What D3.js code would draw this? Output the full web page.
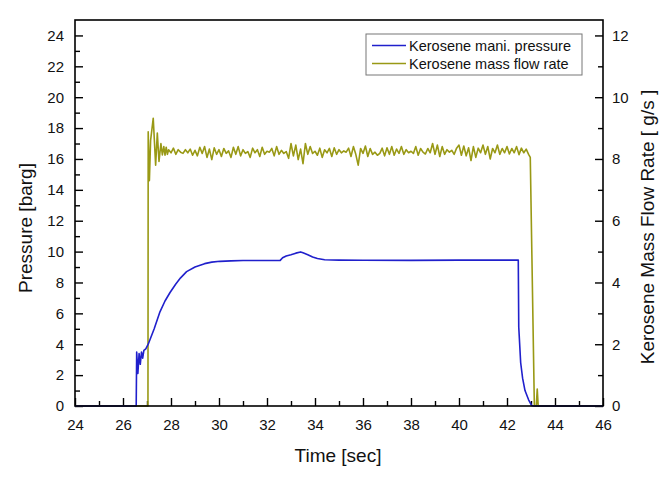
<!DOCTYPE html>
<html>
<head>
<meta charset="utf-8">
<script src="https://cdn.jsdelivr.net/npm/d3@7"></script>
<style>
  body { margin: 0; background: #fff; }
  svg { font-family: "Liberation Sans", Arial, sans-serif; }
</style>
</head>
<body>
<svg id="chart" width="669" height="477"></svg>
<script>
// ---- data ----
const xTicks = [24, 26, 28, 30, 32, 34, 36, 38, 40, 42, 44, 46];
const yLeftTicks = [0, 2, 4, 6, 8, 10, 12, 14, 16, 18, 20, 22, 24];
const yRightTicks = [0, 2, 4, 6, 8, 10, 12];
const seriesNames = ["Kerosene mani. pressure", "Kerosene mass flow rate"];

// Kerosene manifold pressure [barg]
const pressureTime = [24, 26.55, 26.57, 26.62, 26.67, 26.72, 26.77, 26.82, 26.87, 26.95, 27.05, 27.3, 27.54, 27.75, 27.96, 28.2, 28.4, 28.65, 29.0, 29.4, 29.7, 30.04, 30.5, 31.0, 32.0, 32.55, 32.65, 32.8, 33.0, 33.2, 33.4, 33.5, 33.7, 33.9, 34.1, 34.4, 35, 36, 38, 40, 42.47, 42.49, 42.57, 42.65, 42.75, 42.9, 43.03, 43.1, 46];
const pressureValue = [0, 0, 3.5, 2.1, 3.4, 2.7, 3.5, 3.1, 3.6, 3.7, 4.0, 5.0, 6.1, 6.8, 7.35, 7.9, 8.3, 8.7, 9.0, 9.22, 9.32, 9.37, 9.4, 9.42, 9.42, 9.43, 9.6, 9.72, 9.8, 9.9, 9.98, 9.92, 9.8, 9.65, 9.55, 9.47, 9.45, 9.44, 9.43, 9.45, 9.45, 5.1, 2.8, 1.8, 1.0, 0.4, 0.03, 0, 0];

// Kerosene mass flow rate [g/s]
const flowTime = [24, 27.04, 27.05, 27.1, 27.15, 27.26, 27.36, 27.43, 27.5, 27.58, 27.64, 27.7, 27.75, 27.8, 27.85, 27.9,
  28.0, 28.1, 28.2, 28.3, 28.4, 28.5, 28.6, 28.7, 28.8, 28.9,
  29.0, 29.1, 29.2, 29.3, 29.4, 29.5, 29.6, 29.7, 29.8, 29.9,
  30.0, 30.1, 30.2, 30.3, 30.4, 30.5, 30.6, 30.7, 30.8, 30.9,
  31.0, 31.1, 31.2, 31.3, 31.4, 31.5, 31.6, 31.7, 31.8, 31.9,
  32.0, 32.1, 32.2, 32.3, 32.4, 32.5, 32.6, 32.7, 32.8, 32.9,
  33.0, 33.1, 33.2, 33.3, 33.4, 33.5, 33.6, 33.7, 33.8, 33.9,
  34.0, 34.1, 34.2, 34.3, 34.4, 34.5, 34.6, 34.7, 34.8, 34.9,
  35.0, 35.1, 35.2, 35.3, 35.4, 35.5, 35.6, 35.7, 35.8, 35.9,
  36.0, 36.1, 36.2, 36.3, 36.4, 36.5, 36.6, 36.7, 36.8, 36.9,
  37.0, 37.1, 37.2, 37.3, 37.4, 37.5, 37.6, 37.7, 37.8, 37.9,
  38.0, 38.1, 38.2, 38.3, 38.4, 38.5, 38.6, 38.7, 38.8, 38.9,
  39.0, 39.1, 39.2, 39.3, 39.4, 39.5, 39.6, 39.7, 39.8, 39.9,
  40.0, 40.1, 40.2, 40.3, 40.4, 40.5, 40.6, 40.7, 40.8, 40.9,
  41.0, 41.1, 41.2, 41.3, 41.4, 41.5, 41.6, 41.7, 41.8, 41.9,
  42.0, 42.1, 42.2, 42.3, 42.4, 42.5, 42.6, 42.7, 42.8, 42.9,
  42.97, 43.14, 43.22, 43.26, 43.3, 46];
const flowValue = [0, 0, 8.88, 7.3, 8.6, 9.32, 7.8, 8.84, 7.92, 8.5, 8.13, 8.4, 8.12, 8.38, 8.15, 8.3,
  8.2, 8.35, 8.15, 8.3, 8.22, 8.18, 8.3, 8.2, 8.32, 8.12,
  8.28, 8.1, 8.38, 8.18, 8.4, 8.05, 8.32, 7.98, 8.36, 8.15,
  8.3, 8.08, 8.34, 8.18, 8.26, 8.05, 8.38, 8.15, 8.4, 8.1,
  8.3, 8.18, 8.24, 8.05, 8.35, 8.2, 8.3, 8.08, 8.38, 8.15,
  8.25, 8.22, 8.34, 8.1, 8.4, 8.15, 8.28, 8.18, 8.24, 8.02,
  8.5, 8.1, 8.45, 7.98, 8.32, 7.85, 8.5, 8.15, 8.4, 8.18,
  8.25, 8.12, 8.35, 8.05, 8.3, 8.2, 8.34, 8.08, 8.36, 8.15,
  8.3, 8.2, 8.26, 8.22, 8.35, 8.08, 8.4, 8.15, 7.8, 8.34,
  8.18, 8.42, 8.08, 8.34, 8.15, 8.22, 8.12, 8.18, 8.35, 8.1,
  8.36, 8.15, 8.4, 8.12, 8.32, 8.18, 8.4, 8.15, 8.3, 8.2,
  8.25, 8.18, 8.4, 8.12, 8.34, 8.22, 8.16, 8.34, 8.2, 8.5,
  8.15, 8.45, 8.08, 8.4, 8.15, 8.3, 8.22, 8.28, 8.15, 8.35,
  8.45, 8.12, 8.42, 8.1, 8.36, 7.95, 8.4, 8.05, 8.35, 8.2,
  8.45, 8.15, 8.4, 8.0, 8.34, 8.2, 8.45, 8.15, 8.34, 8.2,
  8.4, 8.16, 8.34, 8.2, 8.4, 8.14, 8.35, 8.2, 8.32, 8.15,
  8.05, 0, 0, 0.55, 0, 0];

// ---- layout ----
const svg = d3.select("#chart");
const mLeft = 75, mRight = 603, mTop = 20, mBottom = 406;
const blue = "#2020cc", olive = "#999915";

const x = d3.scaleLinear().domain([24, 46]).range([mLeft, mRight]);
const yL = d3.scaleLinear().domain([0, 25]).range([mBottom, mTop]);
const yR = d3.scaleLinear().domain([0, 12.5]).range([mBottom, mTop]);

function styleAxis(g) {
  g.select(".domain").remove();
  g.selectAll("line").attr("stroke", "#000").attr("stroke-width", 1.4);
  g.selectAll("text").attr("fill", "#111").style("font-size", "15px");
}

// x axis (ticks inward)
const xMinor = d3.range(25, 46, 2);
svg.append("g").attr("transform", `translate(0,${mBottom})`)
  .call(d3.axisBottom(x).tickValues(xMinor).tickSize(-5).tickFormat(""))
  .call(styleAxis);
svg.append("g").attr("transform", `translate(0,${mBottom})`)
  .call(d3.axisBottom(x).tickValues(xTicks).tickSize(-8).tickPadding(13).tickFormat(d3.format("d")))
  .call(styleAxis);

// left axis
svg.append("g").attr("transform", `translate(${mLeft},0)`)
  .call(d3.axisLeft(yL).tickValues(d3.range(1, 25, 2)).tickSize(-5).tickFormat(""))
  .call(styleAxis);
svg.append("g").attr("transform", `translate(${mLeft},0)`)
  .call(d3.axisLeft(yL).tickValues(yLeftTicks).tickSize(-8).tickPadding(11).tickFormat(d3.format("d")))
  .call(styleAxis);

// right axis
svg.append("g").attr("transform", `translate(${mRight},0)`)
  .call(d3.axisRight(yR).tickValues(d3.range(1, 13, 2)).tickSize(-5).tickFormat(""))
  .call(styleAxis);
svg.append("g").attr("transform", `translate(${mRight},0)`)
  .call(d3.axisRight(yR).tickValues(yRightTicks).tickSize(-8).tickPadding(9).tickFormat(d3.format("d")))
  .call(styleAxis);

// lines
svg.append("clipPath").attr("id", "clip").append("rect")
  .attr("x", mLeft).attr("y", mTop).attr("width", mRight - mLeft).attr("height", mBottom - mTop + 1);

const pressureData = pressureTime.map((t, i) => [t, pressureValue[i]]);
const flowData = flowTime.map((t, i) => [t, flowValue[i]]);

svg.append("path").datum(flowData)
  .attr("clip-path", "url(#clip)")
  .attr("fill", "none").attr("stroke", olive).attr("stroke-width", 1.6)
  .attr("stroke-linejoin", "round")
  .attr("d", d3.line().x(d => x(d[0])).y(d => yR(d[1])));

svg.append("path").datum(pressureData)
  .attr("clip-path", "url(#clip)")
  .attr("fill", "none").attr("stroke", blue).attr("stroke-width", 1.6)
  .attr("stroke-linejoin", "round")
  .attr("d", d3.line().x(d => x(d[0])).y(d => yL(d[1])));

// frame
svg.append("rect").attr("x", mLeft).attr("y", mTop)
  .attr("width", mRight - mLeft).attr("height", mBottom - mTop)
  .attr("fill", "none").attr("stroke", "#000").attr("stroke-width", 1.6);

// axis titles
svg.append("text").attr("x", (mLeft + mRight) / 2 - 1).attr("y", 462)
  .attr("text-anchor", "middle").style("font-size", "19px").attr("fill", "#111")
  .text("Time [sec]");
svg.append("text").attr("transform", `translate(32,${(mTop + mBottom) / 2 + 15}) rotate(-90)`)
  .attr("text-anchor", "middle").style("font-size", "19px").attr("fill", "#111")
  .text("Pressure [barg]");
svg.append("text").attr("transform", `translate(654,${(mTop + mBottom) / 2 + 14}) rotate(-90)`)
  .attr("text-anchor", "middle").style("font-size", "19px").attr("fill", "#111")
  .text("Kerosene Mass Flow Rate [ g/s ]");

// legend
const lg = svg.append("g");
lg.append("rect").attr("x", 366).attr("y", 34).attr("width", 216).attr("height", 41)
  .attr("fill", "#fff").attr("stroke", "#777").attr("stroke-width", 1);
[blue, olive].forEach((c, i) => {
  const yy = 45.5 + i * 18;
  lg.append("line").attr("x1", 372).attr("x2", 406).attr("y1", yy).attr("y2", yy)
    .attr("stroke", c).attr("stroke-width", 1.6);
  lg.append("text").attr("x", 409).attr("y", yy + 5)
    .style("font-size", "14.5px").attr("fill", "#111").text(seriesNames[i]);
});
</script>
</body>
</html>
